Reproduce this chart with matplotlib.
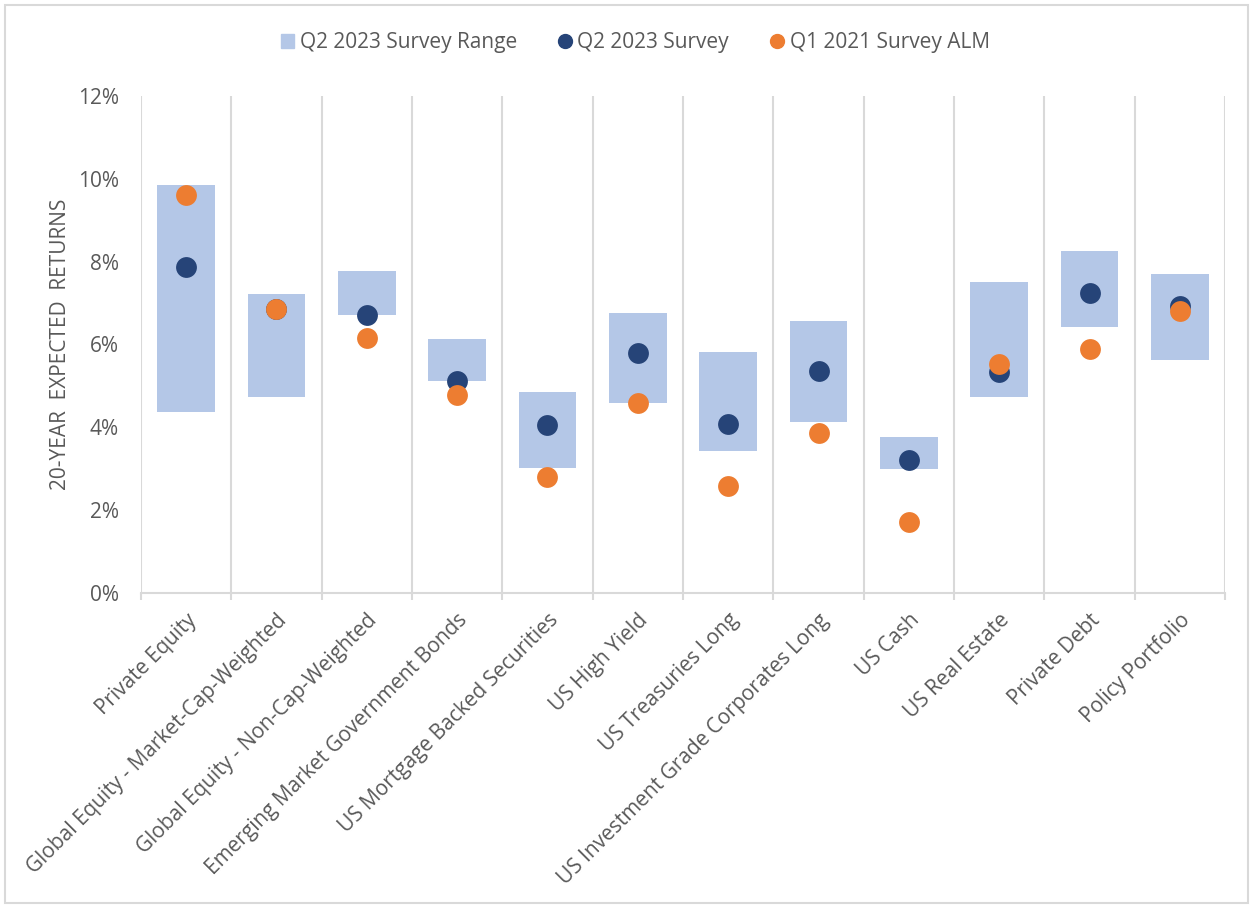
import matplotlib
matplotlib.use("Agg")
import matplotlib.pyplot as plt
from matplotlib.lines import Line2D
from matplotlib.patches import Patch, Rectangle
from matplotlib.ticker import FuncFormatter, MultipleLocator, FixedLocator

plt.rcParams["font.family"] = ["Open Sans", "DejaVu Sans"]

categories = [
    "Private Equity",
    "Global Equity - Market-Cap-Weighted",
    "Global Equity - Non-Cap-Weighted",
    "Emerging Market Government Bonds",
    "US Mortgage Backed Securities",
    "US High Yield",
    "US Treasuries Long",
    "US Investment Grade Corporates Long",
    "US Cash",
    "US Real Estate",
    "Private Debt",
    "Policy Portfolio",
]
range_low = [4.38, 4.73, 6.71, 5.12, 3.02, 4.58, 3.43, 4.12, 2.99, 4.73, 6.42, 5.63]
range_high = [9.85, 7.22, 7.77, 6.14, 4.85, 6.76, 5.82, 6.57, 3.77, 7.51, 8.26, 7.70]
survey_2023 = [7.87, 6.86, 6.72, 5.12, 4.05, 5.79, 4.09, 5.36, 3.21, 5.34, 7.24, 6.93]
alm_2021 = [9.61, 6.85, 6.15, 4.79, 2.81, 4.58, 2.58, 3.86, 1.71, 5.52, 5.89, 6.81]

range_color = "#b4c7e7"
navy = "#264478"
orange = "#ed7d31"
text_color = "#595959"
grid_color = "#d9d9d9"

fig = plt.figure(figsize=(12.53, 9.07), dpi=100)
ax = fig.add_axes([0.1125, 0.3462, 0.8652, 0.548])

x = list(range(len(categories)))
heights = [h - l for h, l in zip(range_high, range_low)]
ax.bar(x, heights, bottom=range_low, width=0.64, color=range_color, zorder=2)
ax.scatter(x, survey_2023, s=225, color=navy, zorder=3, linewidths=0)
ax.scatter(x, alm_2021, s=225, color=orange, zorder=4, linewidths=0)

ax.set_xlim(-0.5, len(categories) - 0.5)
ax.set_ylim(0, 12)
ax.yaxis.set_major_locator(MultipleLocator(2))
ax.yaxis.set_major_formatter(FuncFormatter(lambda v, p: f"{v:.0f}%"))

ax.set_xticks(x)
ax.set_xticklabels(categories, rotation=45, ha="right", rotation_mode="anchor",
                   fontsize=15, color=text_color)
ax.xaxis.set_minor_locator(FixedLocator([i - 0.5 for i in range(len(categories) + 1)]))
ax.tick_params(axis="x", which="major", length=0, pad=12)
ax.tick_params(axis="x", which="minor", length=5, color=grid_color, width=1.5)
ax.tick_params(axis="y", length=0, labelsize=15, labelcolor=text_color, pad=16)
ax.grid(True, axis="x", which="minor", color=grid_color, linewidth=1.5, zorder=0)
ax.grid(False, axis="x", which="major")

for side in ["top", "right", "left"]:
    ax.spines[side].set_visible(False)
ax.spines["bottom"].set_color(grid_color)
ax.spines["bottom"].set_linewidth(1.5)

ax.set_ylabel("20-YEAR  EXPECTED  RETURNS", fontsize=15, color=text_color, labelpad=5)

handles = [
    Patch(color=range_color, label="Q2 2023 Survey Range"),
    Line2D([], [], marker="o", linestyle="none", markersize=10, color=navy,
           label="Q2 2023 Survey"),
    Line2D([], [], marker="o", linestyle="none", markersize=10, color=orange,
           label="Q1 2021 Survey ALM"),
]
leg = fig.legend(handles=handles, loc="center", bbox_to_anchor=(0.507, 0.953), ncol=3,
                 frameon=False, fontsize=15, handlelength=0.6, handletextpad=0.3,
                 columnspacing=2.0)
for t in leg.get_texts():
    t.set_color(text_color)

fig.patches.append(Rectangle((0.004, 0.004), 0.992, 0.99, transform=fig.transFigure,
                             fill=False, edgecolor=grid_color, linewidth=1.5))

fig.savefig("out.png", dpi=100)
